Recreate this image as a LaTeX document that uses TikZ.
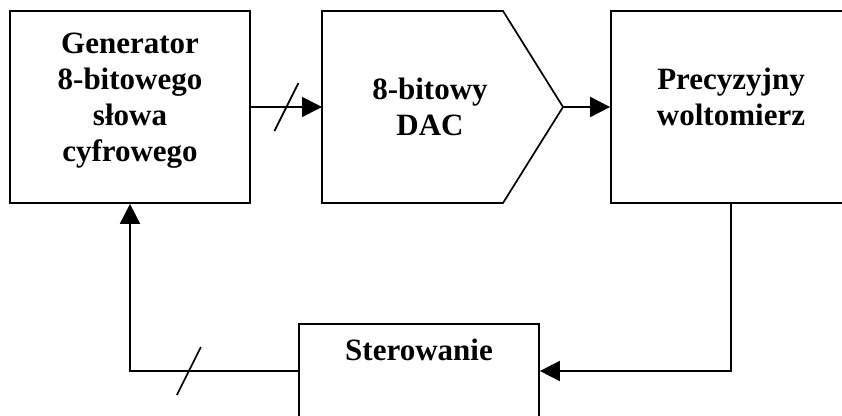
\documentclass[tikz,border=0pt]{standalone}
\usepackage{fontspec}
\setmainfont{Liberation Serif}
\usetikzlibrary{arrows.meta,calc}

\tikzset{
    blok/.style={draw, line width=1.7pt, minimum width=240pt, inner sep=0pt},
    napis/.style={align=center, inner sep=0pt, font=\fontsize{31}{36}\selectfont\bfseries},
    linia/.style={line width=1.7pt},
    strzalka/.style={line width=1.7pt, -{Triangle[length=20pt,width=20pt]}}
}

\begin{document}
\begin{tikzpicture}[x=1pt, y=-1pt]
    \useasboundingbox (0,0) rectangle (842,415);
    \clip (0,0) rectangle (842,415);

    % Generator
    \node[blok, minimum height=192pt] (gen) at (130,107) {};
    \node[napis] (gentxt) at (130,101) {Generator\\8-bitowego\\słowa\\cyfrowego};

    % DAC
    \draw[linia] (322,11) -- (503,11) -- (563,107) -- (503,203) -- (322,203) -- cycle;
    \coordinate (dacin) at (322,107);
    \coordinate (dacout) at (563,107);
    \node[napis] (dac) at (430,107) {8-bitowy\\DAC};

    % Woltomierz
    \node[blok, minimum height=192pt] (wolt) at (731,107) {};
    \node[napis] (wolttxt) at (731,97) {Precyzyjny\\woltomierz};

    % Sterowanie
    \node[blok, minimum height=94pt] (ster) at (419,371) {};
    \node[napis] (stertxt) at (419,350) {Sterowanie};

    % polaczenia
    \draw[strzalka] (gen.east) -- (dacin);
    \draw[linia] ($(gen.east)!0.5!(dacin)$) ++(-12,24) -- ++(24,-48);
    \draw[strzalka] (dacout) -- (wolt.west);
    \draw[strzalka] (wolt.south) |- (ster.east);
    \draw[strzalka] (ster.west) -| (gen.south);
    \draw[linia] ($(ster.west)!0.65!(gen.south |- ster.west)$) ++(-12,24) -- ++(24,-48);
\end{tikzpicture}
\end{document}
